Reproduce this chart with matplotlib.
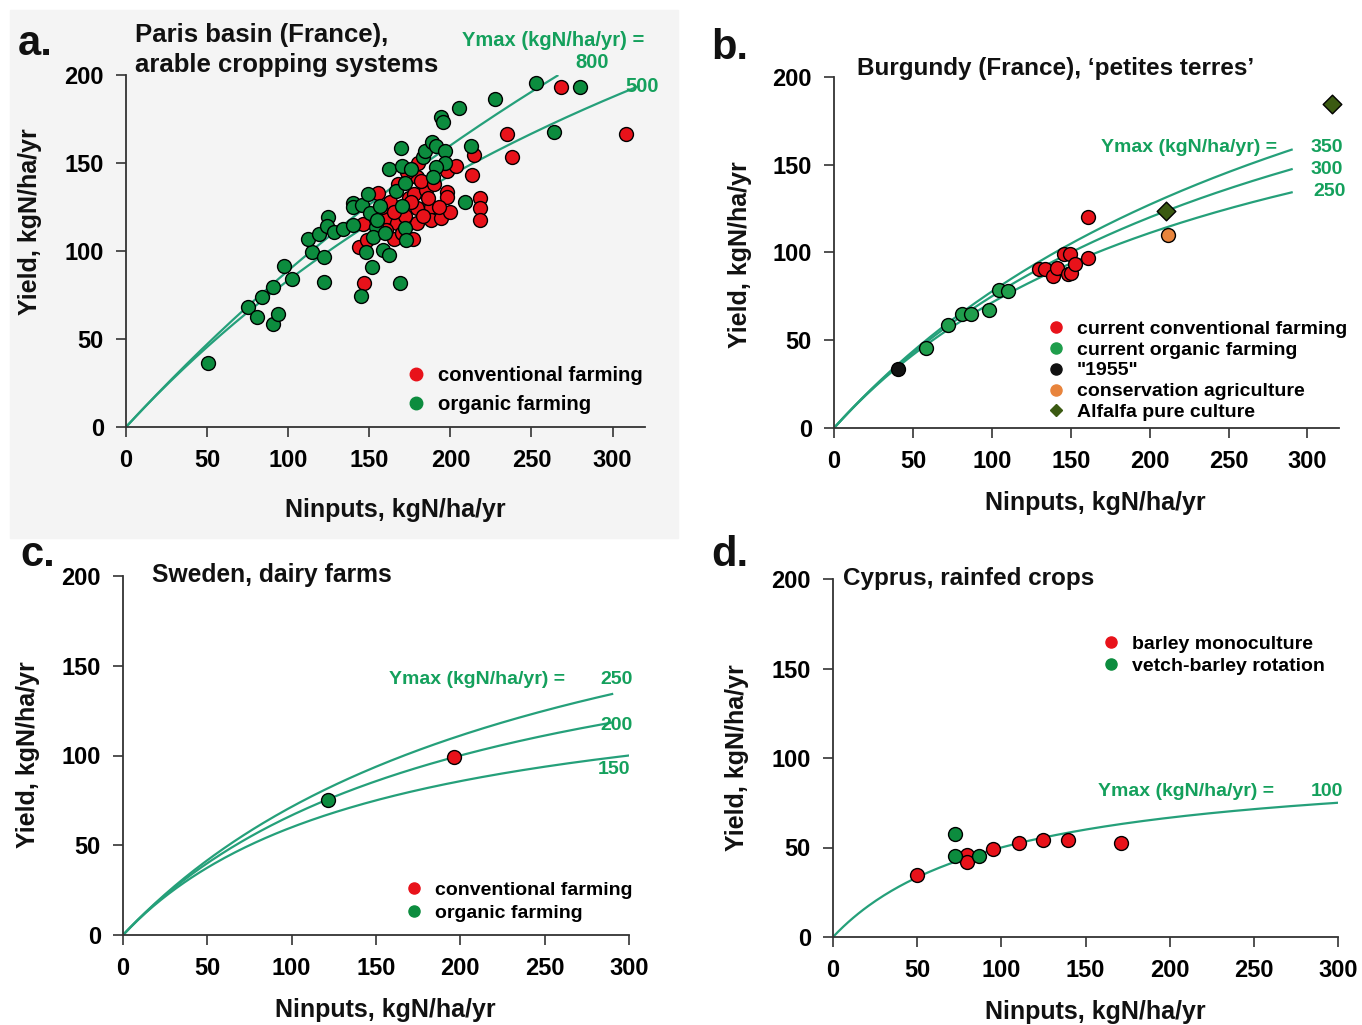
import numpy as np
import matplotlib
matplotlib.use('Agg')
import matplotlib.pyplot as plt
from matplotlib.lines import Line2D
from matplotlib.patches import Rectangle

# ---- panel a: Paris basin ----
a_org_x = [50.4, 75.4, 81.0, 83.8, 90.4, 90.4, 93.8, 97.7, 102.1, 122.3, 114.6, 122.3, 112.3, 119.2,
           124.4, 123.8, 128.5, 133.8, 140.0, 140.0, 140.0, 145.8, 149.4, 150.4, 156.7, 154.0, 152.5,
           154.6, 159.8, 147.7, 151.5, 145.2, 158.3, 162.3, 168.8, 172.3, 172.7, 170.2, 166.7, 172.3,
           162.3, 170.2, 175.8, 169.6, 183.3, 184.4, 188.5, 191.0, 196.7, 196.9, 191.0, 189.0, 194.2,
           195.2, 205.2, 227.5, 253.1, 280.2, 212.9, 208.8, 264.0]
a_org_y = [36.2, 68.4, 62.3, 74.1, 79.7, 58.5, 64.2, 91.5, 84.1, 82.6, 99.4, 96.8, 106.6, 109.7,
           119.5, 114.2, 111.0, 112.3, 114.8, 127.1, 124.8, 126.1, 132.4, 121.4, 125.6, 113.8, 107.8,
           117.6, 110.0, 99.6, 91.1, 74.4, 100.6, 97.7, 81.6, 112.9, 106.3, 125.6, 134.3, 138.4,
           146.4, 148.3, 146.4, 158.7, 153.2, 157.0, 162.1, 159.7, 157.0, 149.8, 147.9, 142.2, 176.3,
           173.5, 181.4, 186.2, 195.3, 193.4, 159.7, 127.7, 167.8]
a_conv_x = [146.7, 143.8, 146.3, 155.6, 160.8, 148.3, 165.0, 167.1, 174.4, 177.5, 179.6, 179.6, 179.2,
            177.1, 184.8, 187.9, 187.9, 194.2, 200.0, 197.9, 197.9, 197.9, 203.5, 213.3, 214.6, 218.1,
            218.1, 218.1, 234.8, 238.3, 268.1, 308.1,
            158, 163, 168, 172, 176, 182, 186, 170, 160, 190, 183, 173, 193, 165, 180]
a_conv_y = [82.0, 102.5, 115.2, 132.8, 119.5, 106.3, 106.6, 115.7, 129.9, 132.4, 142.2, 124.2, 115.7,
            106.6, 134.7, 125.2, 117.6, 118.6, 122.3, 133.7, 130.9, 145.6, 148.3, 143.2, 154.5, 129.9,
            124.2, 117.6, 166.5, 153.6, 193.0, 166.3,
            125, 128, 138, 120, 128, 140, 130, 110, 112, 138, 120, 145, 125, 122, 150]
a_ymax = [800, 500]
a_xend = [266, 316]

# ---- panel b: Burgundy ----
b_conv_x = [130.0, 133.9, 138.9, 141.1, 145.9, 149.8, 148.1, 150.3, 152.9, 160.7, 160.7]
b_conv_y = [90.8, 90.4, 86.6, 90.9, 98.9, 98.9, 87.9, 88.1, 93.2, 97.0, 120.5]
b_org_x = [58.1, 72.3, 81.2, 86.7, 98.4, 104.5, 110.0]
b_org_y = [45.5, 58.7, 64.9, 64.9, 67.2, 78.7, 78.1]
b_1955_x = [40.3]
b_1955_y = [33.4]
b_cons_x = [211.9]
b_cons_y = [109.8]
b_alf_x = [210.1, 315.3]
b_alf_y = [123.4, 184.5]
b_ymax = [350, 300, 250]
b_xend = [290, 290, 290]

# ---- panel c: Sweden ----
c_conv_x = [196.2]
c_conv_y = [98.9]
c_org_x = [121.7]
c_org_y = [75.3]
c_ymax = [250, 200, 150]
c_xend = [290, 290, 300]

# ---- panel d: Cyprus ----
d_barley_x = [50.0, 79.9, 79.9, 95.2, 110.2, 124.9, 139.7, 170.8]
d_barley_y = [34.4, 45.6, 41.9, 49.3, 52.7, 54.0, 54.2, 52.7]
d_vetch_x = [72.5, 72.5, 86.8]
d_vetch_y = [57.7, 45.2, 45.2]
d_ymax = [100]
d_xend = [300]

RED = '#e8121a'
GREEN = '#0c8c3e'
GREEN2 = '#1f9e4c'
LINE = '#25a07a'
TXT = '#14a05c'
W, H = 1362, 1025

plt.rcParams['font.family'] = ['Liberation Sans', 'DejaVu Sans']
plt.rcParams['font.weight'] = 'bold'

fig = plt.figure(figsize=(W / 100, H / 100), dpi=100)
fig.patches.append(Rectangle((10 / W, 1 - 538 / H), 668 / W, 528 / H,
                             transform=fig.transFigure, color='#f4f4f4', zorder=-10))


def add_ax(left, right, top, bottom, xmax):
    ax = fig.add_axes([left / W, 1 - bottom / H, (right - left) / W, (bottom - top) / H])
    ax.set_facecolor('none')
    ax.set_xlim(0, xmax)
    ax.set_ylim(0, 200)
    for s in ['top', 'right']:
        ax.spines[s].set_visible(False)
    for s in ['left', 'bottom']:
        ax.spines[s].set_linewidth(1.3)
        ax.spines[s].set_color('#333333')
    ax.set_xticks([0, 50, 100, 150, 200, 250, 300])
    ax.set_yticks([0, 50, 100, 150, 200])
    ax.tick_params(direction='out', length=7, width=1.2, color='#333333',
                   labelsize=17, pad=9)
    for lab in ax.get_xticklabels() + ax.get_yticklabels():
        lab.set_fontweight('bold')
    return ax


def curves(ax, ymaxs, xends):
    for ym, xe in zip(ymaxs, xends):
        n = np.linspace(0, xe, 200)
        ax.plot(n, ym * n / (n + ym), color=LINE, lw=1.6, zorder=2)


def dots(ax, x, y, c, marker='o', s=100):
    ax.scatter(x, y, s=s, c=c, marker=marker, edgecolors='black', linewidths=1.0,
               zorder=3, clip_on=False)


def legend(ax, items, x, y, fs, spacing):
    hs = [Line2D([], [], ls='none', marker=m, color=c, markersize=ms) for c, m, ms, _ in items]
    ax.legend(hs, [t for *_, t in items], loc='upper left',
              bbox_to_anchor=(x / W, 1 - y / H), bbox_transform=fig.transFigure,
              frameon=False, handlelength=1.0, handletextpad=0.6,
              borderpad=0, borderaxespad=0, labelspacing=spacing,
              prop={'weight': 'bold', 'size': fs})


def ftext(x, y, s, size=18, color='#111111', ha='left', rot=0):
    fig.text(x / W, 1 - y / H, s, fontsize=size, color=color, ha=ha, va='center',
             rotation=rot, fontweight='bold')


# panel a
axa = add_ax(126, 645, 75, 427, 320)
curves(axa, a_ymax, a_xend)
dots(axa, a_conv_x, a_conv_y, RED)
dots(axa, a_org_x, a_org_y, GREEN)
legend(axa, [(RED, 'o', 9, 'conventional farming'), (GREEN, 'o', 9, 'organic farming')],
       406, 366, 14.6, 0.48)
ftext(18, 44, 'a.', size=30)
ftext(135, 35, 'Paris basin (France),', size=18.5)
ftext(135, 65, 'arable cropping systems', size=18.5)
ftext(462, 41, 'Ymax (kgN/ha/yr) =', size=14.5, color=TXT)
ftext(592, 63, '800', size=14.5, color=TXT, ha='center')
ftext(642, 87, '500', size=14.5, color=TXT, ha='center')
ftext(30, 222, 'Yield, kgN/ha/yr', size=18, ha='center', rot=90)
ftext(395, 510, 'Ninputs, kgN/ha/yr', size=18, ha='center')

# panel b
axb = add_ax(834, 1339, 77, 428, 320)
curves(axb, b_ymax, b_xend)
dots(axb, b_org_x, b_org_y, GREEN2)
dots(axb, b_conv_x, b_conv_y, RED)
dots(axb, b_1955_x, b_1955_y, '#111111')
dots(axb, b_cons_x, b_cons_y, '#e8843c')
dots(axb, b_alf_x, b_alf_y, '#3b5a12', marker='D', s=90)
legend(axb, [(RED, 'o', 8, 'current conventional farming'),
             (GREEN2, 'o', 8, 'current organic farming'),
             ('#111111', 'o', 8, '"1955"'),
             ('#e8843c', 'o', 8, 'conservation agriculture'),
             ('#3b5a12', 'D', 6, 'Alfalfa pure culture')],
       1046, 320, 14, 0.17)
ftext(711, 48, 'b.', size=30)
ftext(857, 68, 'Burgundy (France), \u2018petites terres\u2019', size=17.5)
ftext(1277, 147, 'Ymax (kgN/ha/yr) =', size=14, color=TXT, ha='right')
ftext(1311, 147, '350', size=14, color=TXT)
ftext(1311, 169, '300', size=14, color=TXT)
ftext(1313, 192, '250', size=14, color=TXT)
ftext(740, 255, 'Yield, kgN/ha/yr', size=18, ha='center', rot=90)
ftext(1095, 503, 'Ninputs, kgN/ha/yr', size=18, ha='center')

# panel c
axc = add_ax(123, 629, 576, 935, 300)
curves(axc, c_ymax, c_xend)
dots(axc, c_conv_x, c_conv_y, RED)
dots(axc, c_org_x, c_org_y, GREEN)
legend(axc, [(RED, 'o', 8, 'conventional farming'), (GREEN, 'o', 8, 'organic farming')],
       404, 881, 14, 0.28)
ftext(20, 555, 'c.', size=30)
ftext(152, 575, 'Sweden, dairy farms', size=17.7)
ftext(389, 680, 'Ymax (kgN/ha/yr) =', size=14, color=TXT)
ftext(600, 680, '250', size=14, color=TXT)
ftext(600, 725, '200', size=14, color=TXT)
ftext(598, 770, '150', size=14, color=TXT)
ftext(28, 755, 'Yield, kgN/ha/yr', size=18, ha='center', rot=90)
ftext(385, 1010, 'Ninputs, kgN/ha/yr', size=18, ha='center')

# panel d
axd = add_ax(833, 1338, 579, 937, 300)
curves(axd, d_ymax, d_xend)
dots(axd, d_barley_x, d_barley_y, RED)
dots(axd, d_vetch_x, d_vetch_y, GREEN)
legend(axd, [(RED, 'o', 8, 'barley monoculture'), (GREEN, 'o', 8, 'vetch-barley rotation')],
       1101, 635, 14, 0.23)
ftext(711, 555, 'd.', size=30)
ftext(843, 578, 'Cyprus, rainfed crops', size=17.5)
ftext(1098, 792, 'Ymax (kgN/ha/yr) =', size=14, color=TXT)
ftext(1311, 792, '100', size=14, color=TXT)
ftext(737, 758, 'Yield, kgN/ha/yr', size=18, ha='center', rot=90)
ftext(1095, 1012, 'Ninputs, kgN/ha/yr', size=18, ha='center')

fig.savefig('out.png', dpi=100)
